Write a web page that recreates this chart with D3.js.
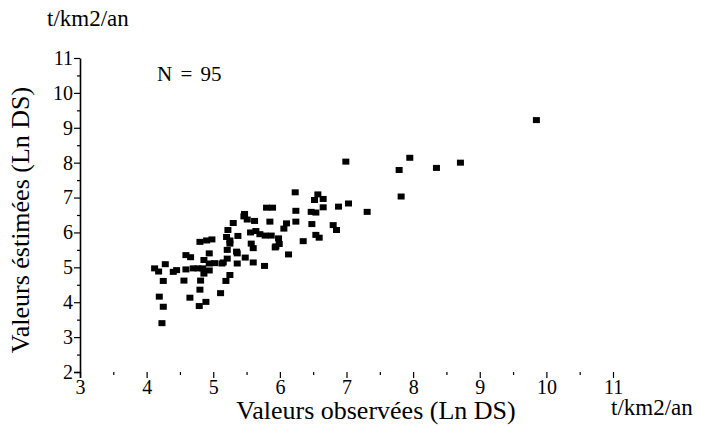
<!DOCTYPE html>
<html>
<head>
<meta charset="utf-8">
<script src="https://cdn.jsdelivr.net/npm/d3@7"></script>
<style>
    body { margin: 0; background: white; }
    #chart { width: 703px; height: 427px; }
</style>
</head>
<body>
<div id="chart"></div>
<script>
const obsValues = [
    4.12, 4.18, 4.28, 4.25, 4.19, 4.25, 4.23, 4.40, 4.45, 4.56,
    4.65, 4.59, 4.66, 4.59, 4.70, 4.79, 4.89, 4.80, 4.81, 4.86,
    4.84, 4.86, 4.94, 4.94, 4.80, 4.90, 4.98, 5.11, 5.19, 5.25,
    5.15, 5.21, 5.21, 5.22, 5.30, 5.20, 5.25, 5.37, 5.36, 5.36,
    5.46, 5.51, 5.48, 5.62, 5.56, 5.64, 5.57, 5.60, 5.60, 5.77,
    5.80, 5.89, 5.85, 5.78, 5.87, 5.98, 5.93, 5.99, 6.06, 6.10,
    6.13, 6.23, 6.24, 6.24, 6.35, 6.47, 6.54, 6.48, 6.57, 6.52,
    6.65, 6.65, 6.88, 7.03, 7.31, 6.80, 6.85, 6.54, 6.59, 6.99,
    7.95, 7.79, 8.35, 8.71, 7.82, 9.85, 4.94, 5.13, 5.47, 5.25,
    5.94, 4.77, 5.35, 5.02, 5.70
]
const estValues = [
    4.97, 4.88, 5.09, 4.61, 4.16, 3.87, 3.40, 4.87, 4.92, 4.62,
    4.13, 5.35, 5.29, 4.94, 4.97, 3.89, 4.01, 4.36, 4.62, 4.82,
    4.97, 5.21, 5.11, 5.40, 5.73, 5.77, 5.80, 4.26, 4.61, 4.78,
    5.14, 5.25, 5.50, 6.07, 6.27, 5.87, 5.77, 5.90, 5.40, 5.11,
    6.46, 6.37, 5.28, 6.33, 6.00, 6.04, 5.68, 5.55, 5.14, 5.04,
    6.71, 6.71, 6.31, 5.91, 5.91, 5.83, 5.57, 5.67, 6.11, 6.26,
    5.37, 7.15, 6.62, 6.31, 5.75, 6.59, 6.57, 6.24, 7.09, 6.93,
    6.96, 6.72, 6.74, 6.83, 6.59, 6.21, 6.07, 5.93, 5.85, 8.03,
    8.14, 7.79, 7.85, 8.00, 7.03, 9.22, 4.91, 5.11, 6.53, 5.68,
    5.60, 4.97, 5.45, 5.12, 5.95
]
const xTicks = [3, 4, 5, 6, 7, 8, 9, 10, 11]
const yTicks = [2, 3, 4, 5, 6, 7, 8, 9, 10, 11]
const xTitle = "Valeurs observées (Ln DS)"
const yTitle = "Valeurs éstimées (Ln DS)"
const unitLabel = "t/km2/an"
const countLabel = "N = 95"

const x0 = 80, x1 = 613, y0 = 372, y1 = 58,
    major_len = 6, minor_len = 3, tick_font = "20px",
    title_font = "26px", unit_font = "23px",
    mark_w = 7, mark_h = 6,
    serif = "Liberation Serif"

let svg = d3.select("#chart")
    .append("svg")
    .attr("width", 703)
    .attr("height", 427)

let x = d3.scaleLinear().domain([3, 11]).range([x0, x1])
let y = d3.scaleLinear().domain([2, 11]).range([y0, y1])

// minor ticks every half unit, no labels
let xMinor = xTicks.slice(1).map(d => d - 0.5)
let yMinor = yTicks.slice(1).map(d => d - 0.5)

let xAxis = svg.append("g")
    .attr("transform", "translate(0," + y0 + ")")
    .call(d3.axisBottom(x).tickValues(xTicks).tickSize(major_len).tickPadding(2).tickFormat(d3.format("d")))
xAxis.append("g")
    .call(d3.axisBottom(x).tickValues(xMinor).tickSize(minor_len).tickFormat(""))
    .select(".domain").remove()

let yAxis = svg.append("g")
    .attr("transform", "translate(" + x0 + ",0)")
    .call(d3.axisLeft(y).tickValues(yTicks).tickSize(major_len).tickPadding(1).tickFormat(d3.format("d")))
yAxis.append("g")
    .call(d3.axisLeft(y).tickValues(yMinor).tickSize(minor_len).tickFormat(""))
    .select(".domain").remove()

svg.selectAll(".domain")
    .attr("stroke", "black")
    .attr("stroke-width", 1.6)
    .attr("d", function () {
        return d3.select(this).attr("d").replace(/V6|H-6|V-6|H6/g, "")
    })
svg.selectAll(".tick line").attr("stroke", "black").attr("stroke-width", 1.2)
svg.selectAll(".tick text")
    .style("font-family", serif)
    .style("font-size", tick_font)
    .attr("fill", "black")

// points
svg.append("g")
    .selectAll("rect")
    .data(obsValues.map((d, i) => ({obs: d, est: estValues[i]})))
    .enter()
    .append("rect")
    .attr("x", d => x(d.obs) - mark_w / 2)
    .attr("y", d => y(d.est) - mark_h / 2)
    .attr("width", mark_w)
    .attr("height", mark_h)
    .attr("fill", "black")

function label(t, size) {
    return svg.append("text")
        .style("font-family", serif)
        .style("font-size", size)
        .attr("fill", "black")
        .text(t)
}

label(xTitle, title_font)
    .attr("x", 376)
    .attr("y", 419)
    .attr("text-anchor", "middle")

label(yTitle, title_font)
    .attr("transform", "translate(29,220) rotate(-90)")
    .attr("text-anchor", "middle")

label(unitLabel, unit_font).attr("x", 611).attr("y", 415)
label(unitLabel, unit_font).attr("x", 47).attr("y", 26)

label(countLabel, "21px")
    .attr("x", 157)
    .attr("y", 81)
    .style("word-spacing", "3px")
</script>
</body>
</html>
